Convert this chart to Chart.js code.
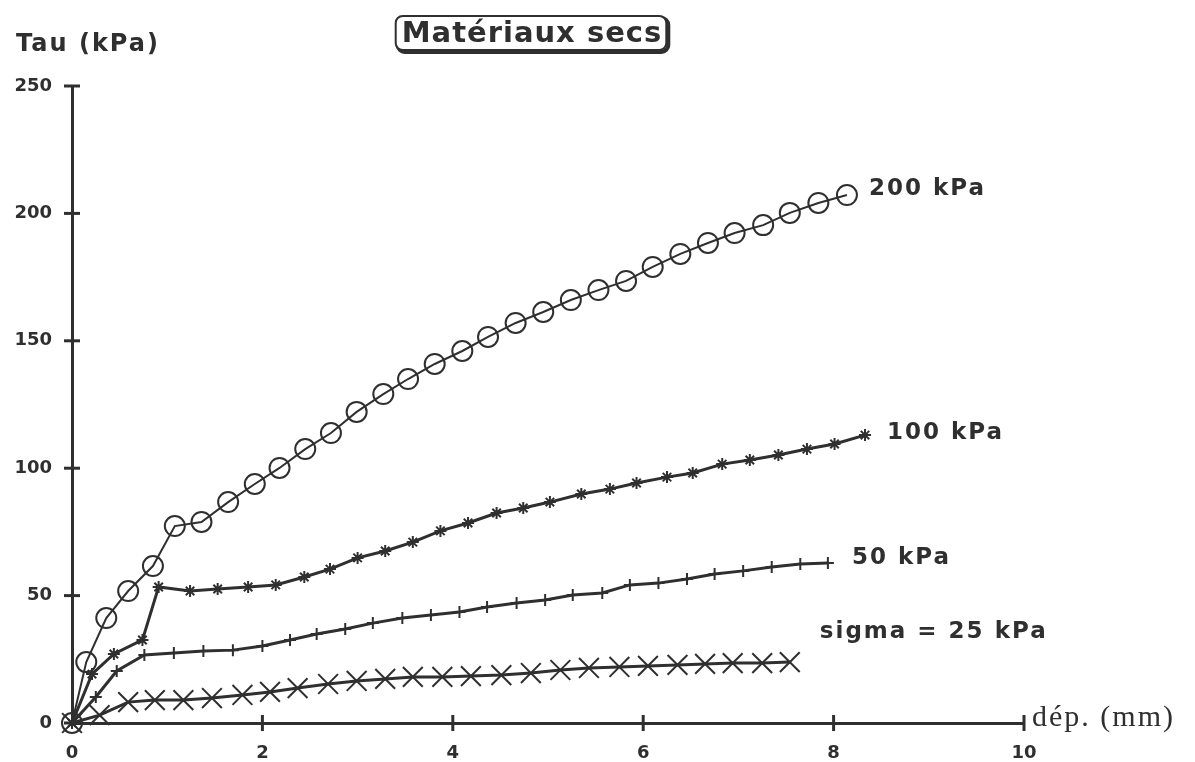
<!DOCTYPE html>
<html><head><meta charset="utf-8">
<script src="https://cdn.jsdelivr.net/npm/chart.js@4/dist/chart.umd.min.js"></script>
<style>html,body{margin:0;padding:0;background:#fff}#wrap{width:1195px;height:762px;position:relative}</style>
</head><body><div id="wrap"><canvas id="c" width="1195" height="762"></canvas></div>
<script>
// ---- data ----
const x200 = [0,0.15,0.36,0.59,0.85,1.08,1.36,1.64,1.92,2.18,2.45,2.72,2.99,3.27,3.53,3.81,4.10,4.37,4.66,4.95,5.24,5.53,5.82,6.10,6.39,6.68,6.96,7.26,7.54,7.84,8.14];
const y200 = [0,23.9,41.2,51.8,61.6,77.3,78.9,86.7,93.8,100.1,107.5,113.8,122.1,129.1,135.0,140.9,146.0,151.5,157.0,161.3,166.0,169.9,173.5,179.0,184.1,188.4,192.3,195.4,200.2,204.1,207.2];
const x100 = [0,0.21,0.44,0.74,0.91,1.24,1.53,1.85,2.14,2.44,2.71,3.00,3.29,3.58,3.87,4.16,4.46,4.74,5.02,5.35,5.65,5.93,6.25,6.52,6.83,7.12,7.42,7.72,8.01,8.33];
const y100 = [0,19.2,27.1,32.6,53.4,51.8,52.6,53.4,54.2,57.3,60.4,64.8,67.5,71.0,75.4,78.5,82.4,84.4,86.7,89.9,91.8,94.2,96.5,98.1,101.6,103.2,105.2,107.5,109.5,113.0];
const x50 = [0,0.25,0.47,0.76,1.07,1.38,1.69,2.00,2.29,2.57,2.87,3.16,3.47,3.77,4.07,4.36,4.67,4.97,5.26,5.57,5.86,6.16,6.46,6.75,7.05,7.35,7.65,7.94];
const y50 = [0,10.2,20.4,26.7,27.5,28.3,28.6,30.2,32.6,34.9,36.9,39.2,41.2,42.4,43.6,45.5,47.1,48.3,50.2,51.0,54.2,54.9,56.5,58.5,59.7,61.2,62.4,62.8];
const x25 = [0,0.29,0.59,0.87,1.17,1.47,1.79,2.08,2.37,2.69,2.99,3.29,3.58,3.89,4.19,4.51,4.82,5.13,5.43,5.75,6.05,6.36,6.65,6.94,7.25,7.54];
const y25 = [0,3.1,8.2,9.0,9.0,9.8,11.0,12.2,13.7,15.3,16.5,17.3,18.1,18.1,18.4,18.8,19.6,20.8,21.6,22.0,22.4,22.8,23.2,23.5,23.5,23.9];
const seriesLabels = ['200 kPa','100 kPa','50 kPa','sigma = 25 kPa'];
const xTicks = [0,2,4,6,8,10];
const yTicks = [0,50,100,150,200,250];
const titleText = 'Matériaux secs';
const yAxisTitle = 'Tau (kPa)';
const xAxisTitle = 'dép. (mm)';

const INK = '#2f2f2f';
const pts = (xs, ys) => xs.map((x, i) => ({x, y: ys[i]}));

const datasets = [
  {label: seriesLabels[0], data: pts(x200, y200), pointStyle: 'circle', pointRadius: 10, borderWidth: 2, pointBorderWidth: 2},
  {label: seriesLabels[1], data: pts(x100, y100), pointStyle: 'star', pointRadius: 6, borderWidth: 3, pointBorderWidth: 2},
  {label: seriesLabels[2], data: pts(x50, y50), pointStyle: 'cross', pointRadius: 6, borderWidth: 3, pointBorderWidth: 2},
  {label: seriesLabels[3], data: pts(x25, y25), pointStyle: 'crossRot', pointRadius: 14, borderWidth: 3, pointBorderWidth: 2}
].map(d => Object.assign(d, {showLine: true, borderColor: INK, pointBorderColor: INK, backgroundColor: 'rgba(0,0,0,0)', pointBackgroundColor: 'rgba(0,0,0,0)', tension: 0, clip: false}));

const labelOffsets = [[22, -6], [22, -2], [24, -5], [30, -30]];

const deco = {
  id: 'deco',
  afterDraw(chart) {
    const ctx = chart.ctx, xs = chart.scales.x, ys = chart.scales.y;
    const x0 = xs.getPixelForValue(0), y0 = ys.getPixelForValue(0);
    ctx.save();
    ctx.strokeStyle = INK; ctx.lineWidth = 3; ctx.lineCap = 'butt';
    // crossing tick marks
    yTicks.forEach(v => { const p = ys.getPixelForValue(v); ctx.beginPath(); ctx.moveTo(x0 - 8, p); ctx.lineTo(x0 + 8, p); ctx.stroke(); });
    xTicks.forEach(v => { if (v === 0) return; const p = xs.getPixelForValue(v); ctx.beginPath(); ctx.moveTo(p, y0 - 8); ctx.lineTo(p, y0 + 8); ctx.stroke(); });
    // series labels at line ends
    ctx.fillStyle = INK; ctx.textBaseline = 'middle'; ctx.textAlign = 'left';
    ctx.font = 'bold 23px "DejaVu Sans"';
    ctx.letterSpacing = '2px';
    chart.data.datasets.forEach((d, i) => {
      const last = d.data[d.data.length - 1];
      ctx.fillText(d.label, xs.getPixelForValue(last.x) + labelOffsets[i][0], ys.getPixelForValue(last.y) + labelOffsets[i][1]);
    });
    // y axis title
    ctx.font = 'bold 24px "DejaVu Sans"';
    ctx.letterSpacing = '2px';
    ctx.fillText(yAxisTitle, 16, 45);
    // x axis title
    ctx.font = '30px "Liberation Serif"';
    ctx.letterSpacing = '2px';
    ctx.fillText(xAxisTitle, xs.getPixelForValue(10) + 8, y0 - 5);
    // title box
    ctx.font = 'bold 29px "DejaVu Sans"';
    ctx.letterSpacing = '1px';
    ctx.textAlign = 'center';
    const tw = ctx.measureText(titleText).width;
    const cx = 531, cy = 33, bw = tw + 10, bh = 34;
    const bx = cx - bw / 2, by = cy - bh / 2;
    ctx.lineWidth = 4;
    ctx.beginPath(); ctx.roundRect(bx + 2, by + 2, bw, bh, 7); ctx.stroke();
    ctx.fillStyle = '#fff';
    ctx.lineWidth = 2;
    ctx.beginPath(); ctx.roundRect(bx, by, bw, bh, 7); ctx.fill(); ctx.stroke();
    ctx.fillStyle = INK;
    ctx.fillText(titleText, cx + 1, cy + 1);
    ctx.restore();
  }
};

new Chart(document.getElementById('c'), {
  type: 'scatter',
  data: {datasets},
  options: {
    responsive: false, animation: false,
    layout: {padding: {top: 86, right: 171, left: 0, bottom: 0}},
    plugins: {legend: {display: false}, tooltip: {enabled: false}, title: {display: false}},
    scales: {
      x: {
        type: 'linear', min: 0, max: 10,
        afterBuildTicks: s => { s.ticks = xTicks.map(v => ({value: v})); },
        afterFit: s => { s.height = 39; },
        border: {display: true, color: INK, width: 3},
        grid: {display: false},
        ticks: {color: INK, font: {family: 'DejaVu Sans', weight: 'bold', size: 18}, padding: 12, maxRotation: 0}
      },
      y: {
        type: 'linear', min: 0, max: 250,
        afterBuildTicks: s => { s.ticks = yTicks.map(v => ({value: v})); },
        afterFit: s => { s.width = 72; },
        border: {display: true, color: INK, width: 3},
        grid: {display: false},
        ticks: {color: INK, font: {family: 'DejaVu Sans', weight: 'bold', size: 18}, padding: 12}
      }
    }
  },
  plugins: [deco]
});
</script></body></html>
